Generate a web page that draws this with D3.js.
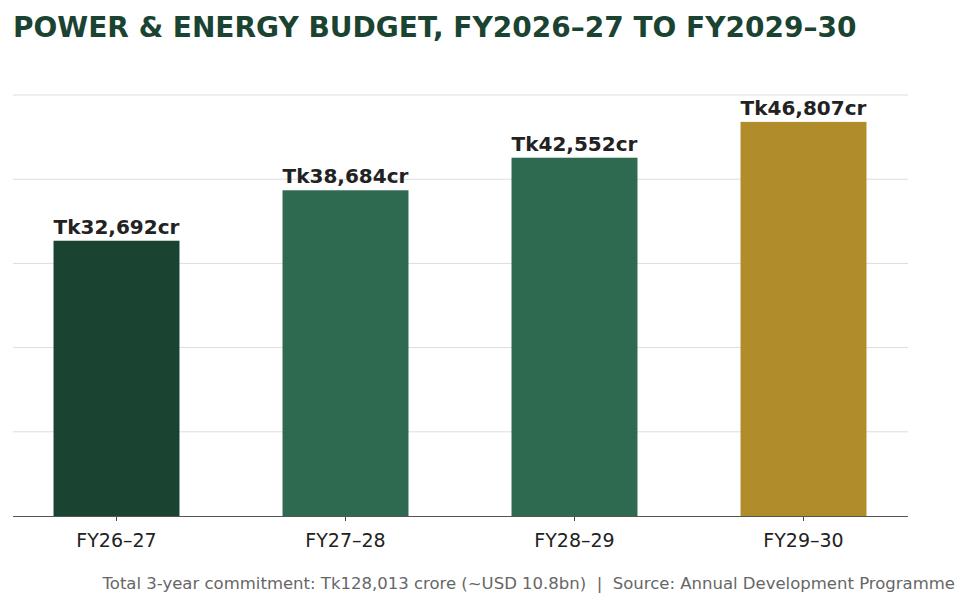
<!DOCTYPE html>
<html><head><meta charset="utf-8">
<script src="https://cdn.jsdelivr.net/npm/d3@7"></script>
<style>body{margin:0;background:#fff;}text{font-family:"DejaVu Sans",sans-serif;}</style>
</head><body>
<svg id="c" width="969" height="606"></svg>
<script>
const categories = ["FY26–27","FY27–28","FY28–29","FY29–30"];
const values = [32692,38684,42552,46807];
const labels = ["Tk32,692cr","Tk38,684cr","Tk42,552cr","Tk46,807cr"];
const colors = ["#1b4332","#2d6a4f","#2d6a4f","#b08d2a"];
const yTicks = [0,10000,20000,30000,40000,50000];

const svg = d3.select("#c");
const x = d3.scaleBand().domain(categories).range([2,918]).paddingInner(0.45).paddingOuter(0.225);
const y = d3.scaleLinear().domain([0,50000]).range([516,95]);

svg.append("text").attr("x",13).attr("y",37).attr("font-size",28).attr("font-weight","bold")
  .attr("fill","#1b4332").text("POWER & ENERGY BUDGET, FY2026–27 TO FY2029–30");

svg.selectAll(".g").data(yTicks.slice(1)).join("line")
  .attr("x1",13).attr("x2",908).attr("y1",d=>y(d)).attr("y2",d=>y(d))
  .attr("stroke","#dddddd").attr("stroke-width",1);

svg.selectAll(".b").data(values).join("rect")
  .attr("x",(d,i)=>x(categories[i])).attr("width",x.bandwidth())
  .attr("y",d=>y(d)).attr("height",d=>y(0)-y(d)).attr("fill",(d,i)=>colors[i]);

svg.selectAll(".l").data(values).join("text")
  .attr("x",(d,i)=>x(categories[i])+x.bandwidth()/2).attr("y",d=>y(d)-7)
  .attr("text-anchor","middle").attr("font-size",20).attr("font-weight","bold")
  .attr("fill","#222").text((d,i)=>labels[i]);

const ax = svg.append("g").attr("transform","translate(0,516)")
  .call(d3.axisBottom(x).tickSize(5).tickSizeOuter(0));
ax.select(".domain").remove();
ax.selectAll("line").attr("stroke","#444");
ax.selectAll("text").attr("font-size",19).attr("fill","#222").attr("dy","1.2em")
  .style("font-family","DejaVu Sans");
svg.append("line").attr("x1",13).attr("x2",908).attr("y1",516.5).attr("y2",516.5).attr("stroke","#555");

svg.append("text").attr("x",955).attr("y",589).attr("text-anchor","end").attr("font-size",16.5)
  .attr("fill","#666").style("white-space","pre")
  .text("Total 3-year commitment: Tk128,013 crore (~USD 10.8bn)  |  Source: Annual Development Programme");
</script>
</body></html>
